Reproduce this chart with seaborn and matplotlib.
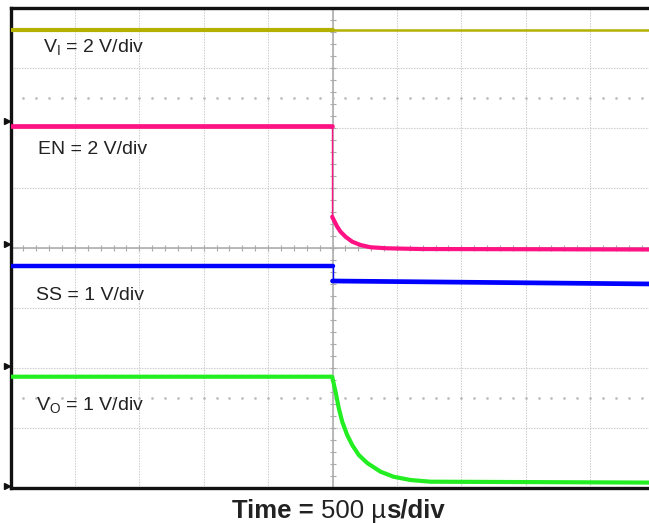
import numpy as np
import pandas as pd
import matplotlib
matplotlib.use("Agg")
import matplotlib.pyplot as plt
import seaborn as sns

# --- traces (x in time divisions, y in vertical divisions) ---
vi_t = [0.0, 5.0, 5.0, 10.0]
vi_v = [7.63, 7.63, 7.64, 7.64]

en_t = [0.0, 4.995, 4.995, 5.02, 5.073, 5.124, 5.202, 5.306, 5.435, 5.59, 5.849, 6.366, 10.0]
en_v = [6.03, 6.03, 4.52, 4.467, 4.355, 4.272, 4.188, 4.105, 4.05, 4.012, 3.995, 3.983, 3.975]

ss_t = [0.0, 5.0, 5.0, 10.0]
ss_v = [3.705, 3.705, 3.45, 3.40]

vo_t = [0.0, 4.995, 5.047, 5.098, 5.151, 5.228, 5.306, 5.408, 5.539, 5.745, 5.947, 6.211, 6.522, 10.0]
vo_v = [1.855, 1.855, 1.605, 1.328, 1.105, 0.883, 0.717, 0.55, 0.417, 0.272, 0.188, 0.133, 0.105, 0.09]

ref_marks = [6.12, 4.07, 2.03, 0.04]

labels = ["V$_\\mathrm{I}$ = 2 V/div", "EN = 2 V/div", "SS = 1 V/div", "V$_\\mathrm{O}$ = 1 V/div"]
label_x = [0.51, 0.43, 0.39, 0.40]
label_y = [7.35, 5.65, 3.20, 1.38]

sns.set_style("white")
plt.rcParams["font.family"] = ["Liberation Sans", "DejaVu Sans"]
plt.rcParams["mathtext.fontset"] = "custom"
plt.rcParams["mathtext.rm"] = "Liberation Sans"
plt.rcParams["mathtext.bf"] = "Liberation Sans:bold"
plt.rcParams["mathtext.default"] = "regular"

fig = plt.figure(figsize=(6.49, 5.23), dpi=100)
ax = fig.add_axes([10.5 / 649, 35 / 523, 644 / 649, 480 / 523])


def trace(t, v, color, lw):
    sns.lineplot(x=t, y=v, ax=ax, color=color, lw=lw, estimator=None,
                 sort=False, legend=False, zorder=5)


# grid + center graticule
ax.set_xlim(0, 10)
ax.set_ylim(0, 8)
ax.set_xticks(range(11))
ax.set_yticks(range(9))
ax.tick_params(length=0, labelbottom=False, labelleft=False)
ax.grid(True, ls=(0, (1.2, 1.2)), color="#c8c8c8", lw=0.8)
ax.set_axisbelow(True)
ax.axvline(5, color="#b4b4b4", lw=1.3, zorder=1)
ax.axhline(4, color="#b4b4b4", lw=1.3, zorder=1)
sub_x = np.arange(0.2, 10, 0.2)
sub_y = np.arange(0.2, 8, 0.2)
ax.plot(sub_x, np.full_like(sub_x, 4), ls="none", marker="|", ms=4.5, color="#aaaaaa", mew=0.8, zorder=1)
ax.plot(np.full_like(sub_y, 5), sub_y, ls="none", marker="_", ms=4.5, color="#aaaaaa", mew=0.8, zorder=1)
for yy in [6.5, 1.5]:
    ax.plot(sub_x, np.full_like(sub_x, yy), ls="none", marker="s", ms=0.8, color="#b8b8b8", zorder=1)

# traces
trace(vi_t[:2], vi_v[:2], "#b3b000", 3.0)
trace(vi_t[2:], vi_v[2:], "#b3b000", 1.8)

trace(en_t[:2], en_v[:2], "#ff1283", 3.4)
trace(en_t[1:3], en_v[1:3], "#ff1283", 1.0)
trace(en_t[2:], en_v[2:], "#ff1283", 3.0)

trace(ss_t[:2], ss_v[:2], "#0000ff", 3.2)
trace(ss_t[1:3], ss_v[1:3], "#0000ff", 1.0)
trace(ss_t[2:], ss_v[2:], "#0000ff", 3.4)

trace(vo_t, vo_v, "#22ee22", 3.0)

# channel ground markers
ax.plot([-0.06] * len(ref_marks), ref_marks, ls="none", marker=">", ms=4,
        color="#111111", clip_on=False, zorder=6)

for s in ["left", "top", "bottom"]:
    ax.spines[s].set_color("#111111")
    ax.spines[s].set_linewidth(2.4)
ax.spines["right"].set_visible(False)

for txt, x, y in zip(labels, label_x, label_y):
    ax.text(x, y, txt, fontsize=14, color="#222222", ha="left", va="center", zorder=7)

# x caption: bold / regular / bold pieces chained together
t1 = fig.text(232 / 649, 5 / 523, "Time = ", fontsize=18.5, weight="bold", color="#222222",
              ha="left", va="baseline")
t2 = ax.annotate("500 µ", xy=(1, 0), xycoords=t1, fontsize=18.5, color="#222222",
                 ha="left", va="bottom", annotation_clip=False)
t3 = ax.annotate("s/div", xy=(1, 0), xycoords=t2, fontsize=18.5, weight="bold", color="#222222",
                 ha="left", va="bottom", annotation_clip=False)

fig.savefig("out.png", dpi=100)
